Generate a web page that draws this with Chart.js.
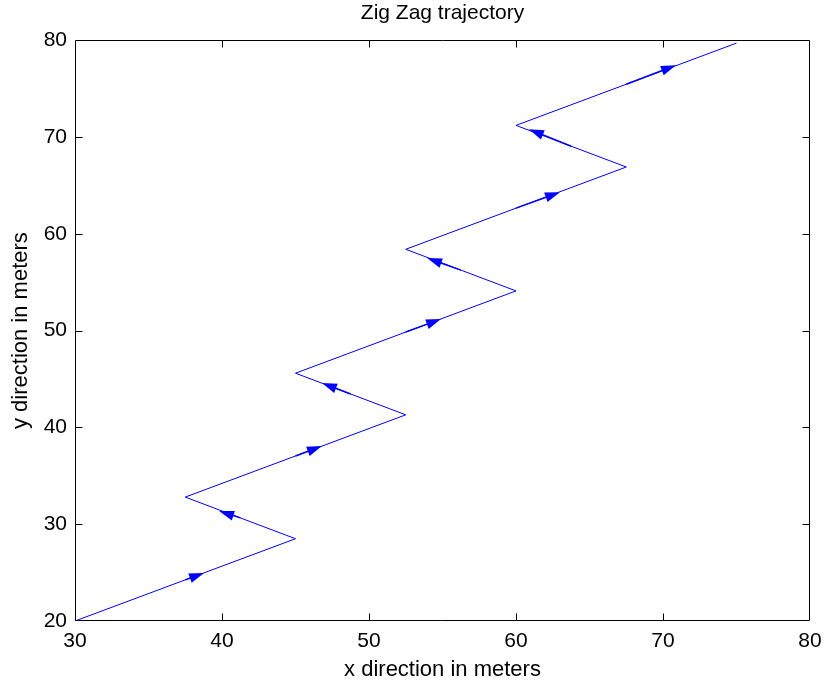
<!DOCTYPE html>
<html>
<head>
<meta charset="utf-8">
<script src="https://cdn.jsdelivr.net/npm/chart.js@4.4.0/dist/chart.umd.min.js"></script>
<style>
  body { margin: 0; background: #fff; }
  #wrap { width: 827px; height: 684px; }
</style>
</head>
<body>
<div id="wrap"><canvas id="chart"></canvas></div>
<script>
// trajectory vertices
var xs = [30, 45, 37.5, 52.5, 45, 60, 52.5, 67.5, 60, 75];
var ys = [20, 28.5, 32.8, 41.3, 45.6, 54.1, 58.4, 66.9, 71.2, 79.7];

// direction arrows (tail at segment middle, tip)
var arrowTailX = [37.5, 41.25, 45, 48.75, 52.5, 56.25, 60, 63.75, 67.5];
var arrowTailY = [24.25, 30.65, 37.05, 43.45, 49.85, 56.25, 62.65, 69.05, 75.45];
var arrowTipX = [38.78, 39.8, 46.8, 46.8, 54.9, 53.95, 62.99, 60.88, 70.88];
var arrowTipY = [24.96, 31.36, 38.07, 44.58, 51.19, 57.49, 64.3, 70.81, 77.42];

var xTicks = [30, 40, 50, 60, 70, 80];
var yTicks = [20, 30, 40, 50, 60, 70, 80];

var fontFamily = '"Liberation Sans", Arial, Helvetica, sans-serif';
var blue = '#0000ff';

var points = xs.map(function(x, i) { return {x: x, y: ys[i]}; });

// box around the plot with inward ticks on all four sides
var boxPlugin = {
  id: 'box',
  afterDraw: function(chart) {
    var ctx = chart.ctx;
    var a = chart.chartArea;
    var sx = chart.scales.x, sy = chart.scales.y;
    var L = Math.round(a.left) + 0.5, R = Math.round(a.right) - 0.5;
    var T = Math.round(a.top) + 0.5, B = Math.round(a.bottom) - 0.5;
    var len = 7;
    ctx.save();
    ctx.strokeStyle = '#000';
    ctx.lineWidth = 1;
    ctx.beginPath();
    ctx.rect(L, T, R - L, B - T);
    xTicks.forEach(function(v) {
      var px = Math.round(sx.getPixelForValue(v)) + 0.5;
      if (px > L + 1 && px < R - 1) {
        ctx.moveTo(px, B); ctx.lineTo(px, B - len);
        ctx.moveTo(px, T); ctx.lineTo(px, T + len);
      }
    });
    yTicks.forEach(function(v) {
      var py = Math.round(sy.getPixelForValue(v)) + 0.5;
      if (py > T + 1 && py < B - 1) {
        ctx.moveTo(L, py); ctx.lineTo(L + len, py);
        ctx.moveTo(R, py); ctx.lineTo(R - len, py);
      }
    });
    ctx.stroke();
    ctx.restore();
  }
};

// quiver style arrows
var arrowPlugin = {
  id: 'arrows',
  afterDatasetsDraw: function(chart) {
    var ctx = chart.ctx;
    var sx = chart.scales.x, sy = chart.scales.y;
    ctx.save();
    ctx.strokeStyle = blue;
    ctx.fillStyle = blue;
    for (var i = 0; i < arrowTipX.length; i++) {
      var x0 = sx.getPixelForValue(arrowTailX[i]);
      var y0 = sy.getPixelForValue(arrowTailY[i]);
      var x1 = sx.getPixelForValue(arrowTipX[i]);
      var y1 = sy.getPixelForValue(arrowTipY[i]);
      var dx = x1 - x0, dy = y1 - y0;
      var d = Math.sqrt(dx * dx + dy * dy);
      var ux = dx / d, uy = dy / d;
      var hl = 15, hw = 5;
      var bx = x1 - ux * hl, by = y1 - uy * hl;
      ctx.lineWidth = 1.5;
      ctx.beginPath();
      ctx.moveTo(x0, y0);
      ctx.lineTo(bx + ux, by + uy);
      ctx.stroke();
      ctx.beginPath();
      ctx.moveTo(x1, y1);
      ctx.lineTo(bx - uy * hw, by + ux * hw);
      ctx.lineTo(bx + uy * hw, by - ux * hw);
      ctx.closePath();
      ctx.fill();
    }
    ctx.restore();
  }
};

new Chart(document.getElementById('chart'), {
  type: 'scatter',
  data: {
    datasets: [{
      data: points,
      showLine: true,
      borderColor: blue,
      borderWidth: 1,
      pointRadius: 0,
      fill: false,
      tension: 0
    }]
  },
  options: {
    responsive: true,
    maintainAspectRatio: false,
    animation: false,
    layout: {padding: {left: 0, right: 17, top: 0, bottom: 0}},
    plugins: {
      legend: {display: false},
      tooltip: {enabled: false},
      title: {
        display: true,
        text: 'Zig Zag trajectory',
        fullSize: false,
        color: '#000',
        font: {family: fontFamily, size: 21, weight: 'normal'},
        padding: {top: 1, bottom: 14}
      }
    },
    scales: {
      x: {
        type: 'linear',
        min: 30, max: 80,
        afterBuildTicks: function(s) { s.ticks = xTicks.map(function(v) { return {value: v}; }); },
        afterFit: function(s) { s.height = 63; s.paddingLeft = 0; s.paddingRight = 0; },
        ticks: {color: '#000', font: {family: fontFamily, size: 21}, padding: 8, maxRotation: 0},
        grid: {display: false, drawTicks: false},
        border: {display: false},
        title: {display: true, text: 'x direction in meters', color: '#000',
                font: {family: fontFamily, size: 22}, padding: {top: 0, bottom: 1}}
      },
      y: {
        type: 'linear',
        min: 20, max: 80,
        afterBuildTicks: function(s) { s.ticks = yTicks.map(function(v) { return {value: v}; }); },
        afterFit: function(s) { s.width = 75; s.paddingTop = 0; s.paddingBottom = 0; },
        ticks: {color: '#000', font: {family: fontFamily, size: 21}, padding: 8},
        grid: {display: false, drawTicks: false},
        border: {display: false},
        title: {display: true, text: 'y direction in meters', color: '#000',
                font: {family: fontFamily, size: 22}, padding: {top: 8, bottom: 0}}
      }
    }
  },
  plugins: [arrowPlugin, boxPlugin]
});
</script>
</body>
</html>
